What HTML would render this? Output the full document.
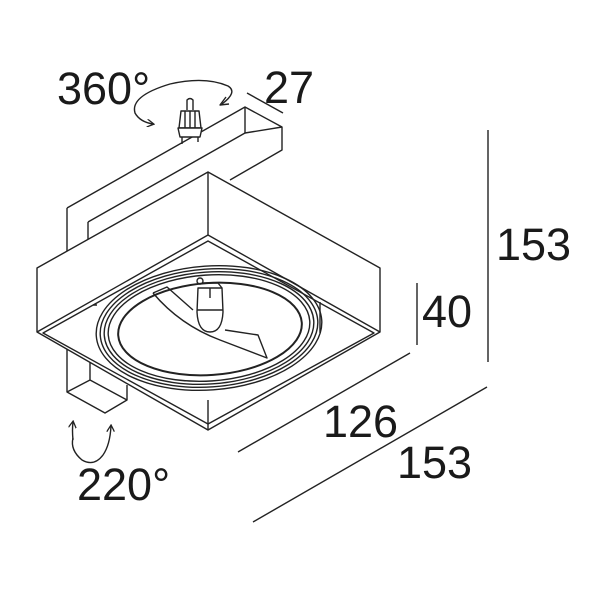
<!DOCTYPE html>
<html><head><meta charset="utf-8"><style>
html,body{margin:0;padding:0;background:#fff;}
svg{display:block;}
text{font-family:"Liberation Sans",Arial,sans-serif;fill:#1a1a1a;}
</style></head><body>
<svg width="600" height="600" viewBox="0 0 600 600" xmlns="http://www.w3.org/2000/svg">
<defs>
<marker id="ah" markerWidth="8" markerHeight="8" refX="6" refY="4" orient="auto" markerUnits="userSpaceOnUse">
<path d="M0,0 L7,4 L0,8" fill="none" stroke="#222" stroke-width="1.3"/>
</marker>
</defs>
<g fill="none" stroke="#222" stroke-width="1.4" stroke-linejoin="round">
<!-- upper mounting bar -->
<path d="M67,208 L245,107 L282,127 L282,150 L230,180"/>
<path d="M245,107 L245,133 L282,127"/>
<path d="M245,133 L88,222"/>
<path d="M67,208 L67,251"/>
<path d="M88,222 L88,240"/>
<!-- connector -->
<path d="M187,110 L187,100 Q190,97 193,100 L193,110" />
<path d="M181,111 L199,111 L201,128 L179,128 Z" fill="#fff"/>
<path d="M185,111 L185,128 M190,111 L190,128 M195,111 L195,128"/>
<path d="M178,128 L202,128 L200,137 L180,137 Z" fill="#fff"/>
<path d="M182,137 L182,144 M198,137 L198,142"/>
<!-- 360 arrow -->
<path d="M222,104 Q238,92 228,86 Q205,76 170,84 Q130,96 135,113 Q140,122 153,124" marker-end="url(#ah)"/>
<path d="M226,97 L220,105 L229,104"/>
<!-- 27 dim -->
<path d="M247,93 L283,113"/>
<!-- main box -->
<path d="M37,268 L208,172 L380,268 L380,332 L208,430 L37,332 Z" fill="#fff"/>
<path d="M208,172 L208,235"/>
<path d="M37,332 L208,235 L380,332"/>
<path d="M43,333 L208,241 L374,333 L208,424 Z"/>
<path d="M208,400 L208,430"/>
<path d="M320,302 L320,333 M93,305 L97,305"/>
<!-- rings -->
<ellipse cx="209" cy="328" rx="113" ry="62" transform="rotate(-4 209 328)"/>
<ellipse cx="209" cy="328" rx="109" ry="59" transform="rotate(-4 209 328)"/>
<ellipse cx="209" cy="328" rx="105" ry="56" transform="rotate(-4 209 328)"/>
<ellipse cx="209" cy="328" rx="101" ry="53" transform="rotate(-4 209 328)"/>
<ellipse cx="210" cy="329" rx="92" ry="46" transform="rotate(-4 210 329)" stroke-width="2"/>
<!-- reflector arm -->
<path d="M153,293 L167,287 L193,310"/>
<path d="M153,293 Q180,325 220,340 L267,358 L258,335 L225,330"/>
<!-- lamp -->
<path d="M198,288 L222,288 L223,312 Q222,332 210,332 Q198,332 197,312 Z" fill="#fff"/>
<path d="M197,310 L223,310 M203,283 L218,283 L222,288 M210,288 L210,298"/>
<circle cx="200" cy="281" r="3"/>
<!-- lower bracket -->
<path d="M67,349 L67,392 L105,413 L127,400 L127,385"/>
<path d="M90,362 L90,380 L67,392 M90,380 L127,400"/>
<!-- 220 arrow -->
<path d="M73,438 Q70,450 82,460 Q94,467 103,455 Q110,445 111,426" marker-end="url(#ah)"/>
<path d="M73,440 Q72,430 73,422" marker-end="url(#ah)"/>
<!-- dimensions -->
<path d="M488,130 L488,362"/>
<path d="M417,283 L417,345"/>
<path d="M238,452 L410,353"/>
<path d="M253,522 L487,387"/>
</g>
<text x="57" y="104" font-size="45">360°</text>
<text x="264" y="103" font-size="45">27</text>
<text x="496" y="260" font-size="45">153</text>
<text x="422" y="327" font-size="45">40</text>
<text x="323" y="437" font-size="45">126</text>
<text x="397" y="478" font-size="45">153</text>
<text x="77" y="500" font-size="45">220°</text>
</svg>
</body></html>
